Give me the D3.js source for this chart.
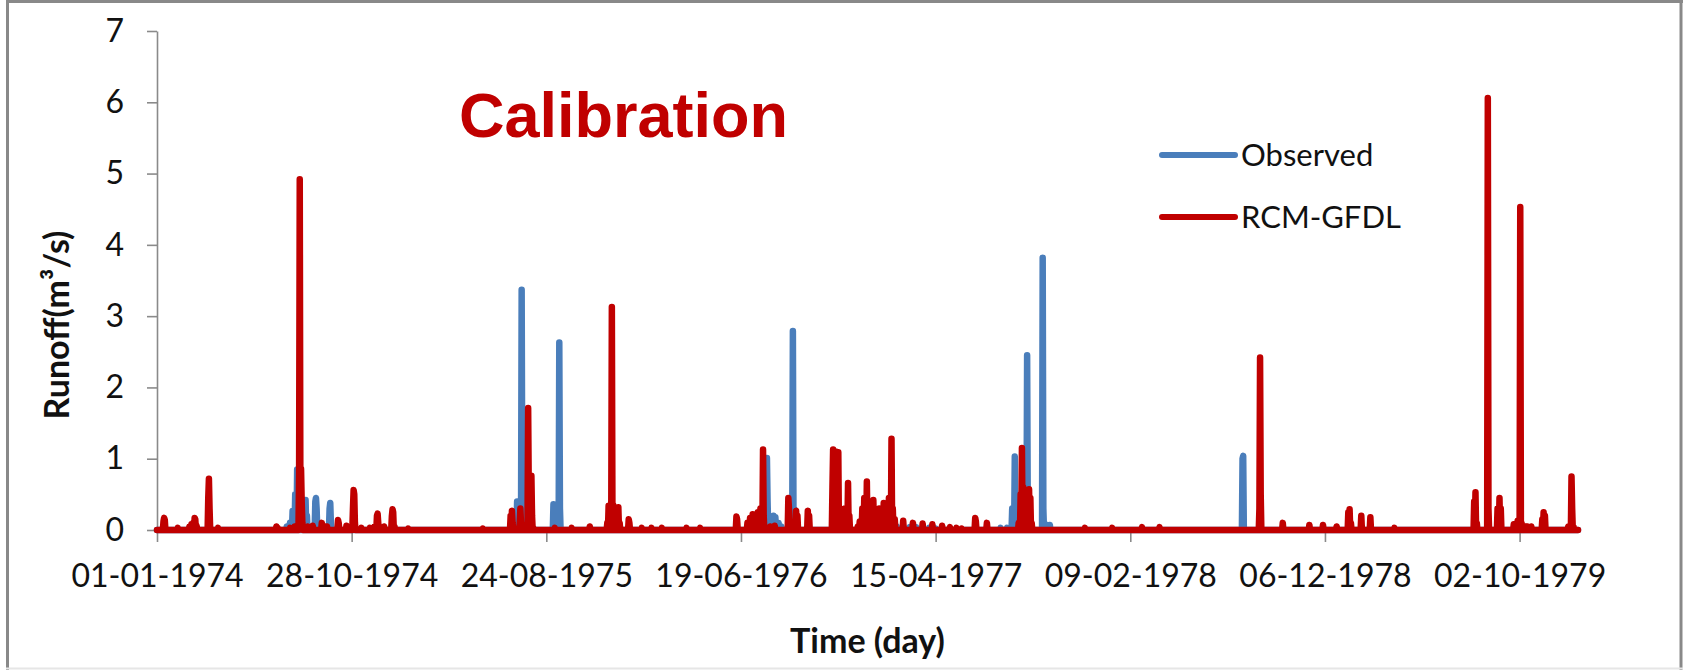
<!DOCTYPE html>
<html>
<head>
<meta charset="utf-8">
<script src="https://cdn.jsdelivr.net/npm/d3@7"></script>
<style>
  html, body { margin: 0; padding: 0; background: #fff; }
  svg { display: block; }
  .axis text { font-family: Lato, "Open Sans", sans-serif; fill: #111; }
</style>
</head>
<body>
<svg id="chart" width="1685" height="670"></svg>
<script>
// Daily runoff record, 1974-1979. Days that are not listed carried no runoff (0 m3/s).
const recordStart = "1974-01-01";
const recordEnd = "1979-12-31";

// x-axis tick labels (every 300 days)
const xTickLabels = ["01-01-1974", "28-10-1974", "24-08-1975", "19-06-1976",
                     "15-04-1977", "09-02-1978", "06-12-1978", "02-10-1979"];
const yTickValues = [0, 1, 2, 3, 4, 5, 6, 7];

// Observed runoff (m3/s)
const observedDates = [
  "1974-07-20","1974-07-25","1974-07-29","1974-08-02","1974-08-05","1974-08-07","1974-08-11",
  "1974-08-18","1974-08-20","1974-09-02","1974-09-03","1974-09-04","1974-09-24","1974-09-25",
  "1974-09-26",
  "1975-07-10","1975-07-13","1975-07-17","1975-07-18","1975-09-04","1975-09-06","1975-09-13",
  "1975-09-14",
  "1976-07-27","1976-07-29","1976-07-30","1976-08-02","1976-08-08","1976-08-11","1976-08-16",
  "1976-08-20","1976-09-05","1976-09-07","1976-09-09",
  "1977-01-15","1977-01-25","1977-02-04","1977-02-14","1977-02-24","1977-03-06","1977-03-16",
  "1977-03-26","1977-04-05","1977-04-15","1977-07-24","1977-08-03","1977-08-11","1977-08-15",
  "1977-08-17","1977-08-31","1977-09-03","1977-09-04","1977-09-27","1977-09-28","1977-10-04",
  "1977-10-08",
  "1978-08-01","1978-08-02"
];
const observedValues = [
  0.05,0.10,0.27,0.50,0.85,0.40,0.30,
  0.42,0.20,0.40,0.45,0.30,0.30,0.38,
  0.10,
  0.40,0.30,3.37,0.40,0.36,0.30,2.63,
  0.30,
  0.30,1.01,0.40,0.15,0.20,0.18,0.10,
  0.05,0.20,2.79,0.30,
  0.02,0.04,0.05,0.05,0.05,0.04,0.04,
  0.03,0.03,0.02,0.03,0.03,0.30,1.03,
  0.50,0.40,2.45,0.30,3.82,0.30,0.07,
  0.07,
  1.00,1.04
];

// RCM-GFDL simulated runoff (m3/s)
const simulatedDates = [
  "1974-01-11","1974-01-12","1974-01-13","1974-02-02","1974-02-20","1974-02-23","1974-02-26",
  "1974-02-28","1974-03-01","1974-03-03","1974-03-21","1974-03-22","1974-03-23","1974-04-05",
  "1974-07-04","1974-07-06","1974-07-25","1974-08-01","1974-08-08","1974-08-09","1974-08-10",
  "1974-08-11","1974-08-12","1974-08-13","1974-08-21","1974-08-29","1974-09-12","1974-09-14",
  "1974-09-20","1974-10-07","1974-10-08","1974-10-20","1974-10-30","1974-10-31","1974-11-01",
  "1974-11-02","1974-11-12","1974-11-25","1974-12-02","1974-12-06","1974-12-07","1974-12-08",
  "1974-12-17","1974-12-29","1974-12-30","1974-12-31",
  "1975-01-02","1975-01-23","1975-05-18","1975-06-30","1975-07-02","1975-07-03","1975-07-14",
  "1975-07-15","1975-07-16","1975-07-27","1975-07-28","1975-07-30","1975-08-01","1975-08-02",
  "1975-08-04","1975-09-06","1975-10-02","1975-10-30","1975-11-26","1975-11-28","1975-11-30",
  "1975-12-03","1975-12-05","1975-12-09","1975-12-13","1975-12-15","1975-12-29","1975-12-30",
  "1976-01-18","1976-02-02","1976-02-18","1976-03-27","1976-04-17","1976-06-12","1976-06-13",
  "1976-06-29","1976-07-03","1976-07-07","1976-07-11","1976-07-15","1976-07-19","1976-07-23",
  "1976-07-24","1976-08-03","1976-08-10","1976-08-31","1976-09-01","1976-09-12","1976-09-14",
  "1976-09-30","1976-10-02","1976-11-07","1976-11-08","1976-11-10","1976-11-12","1976-11-14",
  "1976-11-16","1976-11-18","1976-11-22","1976-11-26","1976-12-01","1976-12-03","1976-12-16",
  "1976-12-19","1976-12-23","1976-12-26","1976-12-30",
  "1977-01-02","1977-01-05","1977-01-09","1977-01-12","1977-01-18","1977-01-25","1977-01-29",
  "1977-02-02","1977-02-06","1977-02-08","1977-02-11","1977-02-24","1977-03-11","1977-03-26",
  "1977-04-10","1977-04-25","1977-05-07","1977-05-17","1977-05-25","1977-06-15","1977-06-16",
  "1977-07-03","1977-08-21","1977-08-24","1977-08-26","1977-08-28","1977-08-31","1977-09-03",
  "1977-09-06","1977-09-08","1977-09-10","1977-12-01",
  "1978-01-12","1978-02-27","1978-03-26","1978-08-27","1978-08-28","1978-08-29","1978-10-02",
  "1978-11-12","1978-12-03","1978-12-24",
  "1979-01-11","1979-01-13","1979-01-15","1979-01-31","1979-02-14","1979-03-23","1979-07-24",
  "1979-07-26","1979-07-28","1979-08-14","1979-08-15","1979-08-29","1979-09-01","1979-09-03",
  "1979-09-23","1979-09-29","1979-10-03","1979-10-05","1979-10-10","1979-10-14","1979-10-20",
  "1979-11-06","1979-11-08","1979-11-10","1979-12-16","1979-12-21","1979-12-22","1979-12-24"
];
const simulatedValues = [
  0.12,0.17,0.14,0.03,0.05,0.08,0.10,
  0.17,0.15,0.06,0.45,0.72,0.30,0.03,
  0.05,0.03,0.03,0.05,0.80,4.92,0.30,
  0.86,0.40,0.10,0.05,0.06,0.10,0.06,
  0.05,0.14,0.10,0.06,0.30,0.56,0.50,
  0.10,0.03,0.03,0.05,0.20,0.23,0.10,
  0.05,0.20,0.29,0.25,
  0.05,0.02,0.02,0.20,0.27,0.10,0.10,
  0.30,0.10,1.71,0.50,0.30,0.76,0.20,
  0.03,0.03,0.03,0.05,0.10,0.34,0.30,
  3.13,0.35,0.30,0.32,0.10,0.15,0.10,
  0.03,0.03,0.03,0.03,0.03,0.19,0.15,
  0.10,0.17,0.22,0.20,0.25,0.30,1.13,
  0.20,0.05,0.06,0.45,0.30,0.27,0.20,
  0.27,0.20,0.60,1.13,0.80,1.10,0.50,
  1.09,0.30,0.20,0.30,0.66,0.20,0.05,
  0.12,0.30,0.45,0.68,
  0.30,0.25,0.42,0.20,0.30,0.38,0.35,
  0.45,1.28,0.30,0.15,0.13,0.10,0.09,
  0.08,0.06,0.04,0.03,0.02,0.17,0.12,
  0.10,0.10,0.50,1.15,0.60,0.40,0.30,
  0.57,0.45,0.10,0.03,
  0.03,0.04,0.04,0.30,2.42,0.50,0.10,
  0.07,0.07,0.05,
  0.25,0.29,0.10,0.20,0.18,0.03,0.40,
  0.53,0.10,6.06,0.30,0.30,0.45,0.30,
  0.08,0.13,4.53,0.10,0.05,0.05,0.05,
  0.15,0.25,0.20,0.05,0.75,0.30,0.05
];

const parseIso = d3.utcParse("%Y-%m-%d");
const parseLabel = d3.utcParse("%d-%m-%Y");
const formatLabel = d3.utcFormat("%d-%m-%Y");

// Expand a list of (date, value) readings into the full daily record.
function dailySeries(dates, values) {
  const byDay = new Map(dates.map((d, i) => [+parseIso(d), values[i]]));
  return d3.utcDays(parseIso(recordStart), d3.utcDay.offset(parseIso(recordEnd), 1))
    .map(day => ({ date: day, value: byDay.has(+day) ? byDay.get(+day) : 0 }));
}

const observed = dailySeries(observedDates, observedValues);
const simulated = dailySeries(simulatedDates, simulatedValues);

const svg = d3.select("#chart");
const W = 1685, H = 670;
const plot = { left: 157, right: 1578, top: 31, bottom: 530 };

svg.append("rect").attr("width", W).attr("height", H).attr("fill", "#fff");

// Outer frame
const frame = svg.append("g").attr("fill", "none");
frame.append("line").attr("x1", 7.5).attr("x2", 7.5).attr("y1", 0).attr("y2", H)
  .attr("stroke", "#898989").attr("stroke-width", 3);
frame.append("line").attr("x1", 6).attr("x2", 1683).attr("y1", 1.5).attr("y2", 1.5)
  .attr("stroke", "#898989").attr("stroke-width", 3);
frame.append("line").attr("x1", 1681).attr("x2", 1681).attr("y1", 0).attr("y2", H)
  .attr("stroke", "#898989").attr("stroke-width", 3);
frame.append("line").attr("x1", 6).attr("x2", 1683).attr("y1", 668.5).attr("y2", 668.5)
  .attr("stroke", "#e6e6e6").attr("stroke-width", 2);

const x = d3.scaleUtc()
  .domain([parseIso(recordStart), parseIso(recordEnd)])
  .range([plot.left, plot.right]);
const y = d3.scaleLinear().domain([0, 7]).range([plot.bottom, plot.top]);

// Axes
const xAxis = svg.append("g").attr("class", "axis")
  .attr("transform", `translate(0,${plot.bottom})`)
  .call(d3.axisBottom(x)
    .tickValues(xTickLabels.map(parseLabel))
    .tickFormat(formatLabel)
    .tickSize(12).tickSizeOuter(0).tickPadding(22));
xAxis.selectAll("text").attr("font-size", 32);

const yAxis = svg.append("g").attr("class", "axis")
  .attr("transform", `translate(${plot.left},0)`)
  .call(d3.axisLeft(y).tickValues(yTickValues).tickFormat(d3.format("d"))
    .tickSize(10).tickSizeOuter(0).tickPadding(23));
yAxis.selectAll("text").attr("font-size", 32);

svg.selectAll(".axis path, .axis line").attr("stroke", "#8a8a8a").attr("stroke-width", 1.6);

// Series
const line = d3.line().x(d => x(d.date)).y(d => y(d.value));
const series = [
  { name: "Observed", data: observed, color: "#4A7EBB" },
  { name: "RCM-GFDL", data: simulated, color: "#C00000" }
];

svg.append("g").selectAll("path").data(series).join("path")
  .attr("d", s => line(s.data))
  .attr("fill", "none")
  .attr("stroke", s => s.color)
  .attr("stroke-width", 6.5)
  .attr("stroke-linejoin", "round")
  .attr("stroke-linecap", "round");

// Legend
const legend = svg.append("g").attr("transform", "translate(1162,155)");
const item = legend.selectAll("g").data(series).join("g")
  .attr("transform", (s, i) => `translate(0,${i * 62})`);
item.append("line").attr("x1", 0).attr("x2", 73)
  .attr("stroke", s => s.color).attr("stroke-width", 6).attr("stroke-linecap", "round");
item.append("text").attr("x", 79).attr("dy", "0.36em")
  .attr("font-family", "Lato, 'Open Sans', sans-serif").attr("font-size", 31).attr("fill", "#111")
  .text(s => s.name);

// Titles
svg.append("text").attr("x", 459).attr("y", 137)
  .attr("font-family", "'Liberation Sans', Arial, sans-serif").attr("font-weight", "bold")
  .attr("font-size", 63).attr("fill", "#C00000").text("Calibration");

svg.append("text")
  .attr("transform", "translate(69,325) rotate(-90)")
  .attr("text-anchor", "middle")
  .attr("font-family", "Lato, 'Open Sans', sans-serif").attr("font-weight", "bold")
  .attr("font-size", 34).attr("fill", "#111")
  .text("Runoff(m³/s)");

svg.append("text").attr("x", (plot.left + plot.right) / 2).attr("y", 653)
  .attr("text-anchor", "middle")
  .attr("font-family", "Lato, 'Open Sans', sans-serif").attr("font-weight", "bold")
  .attr("font-size", 34).attr("fill", "#111")
  .text("Time (day)");
</script>
</body>
</html>
